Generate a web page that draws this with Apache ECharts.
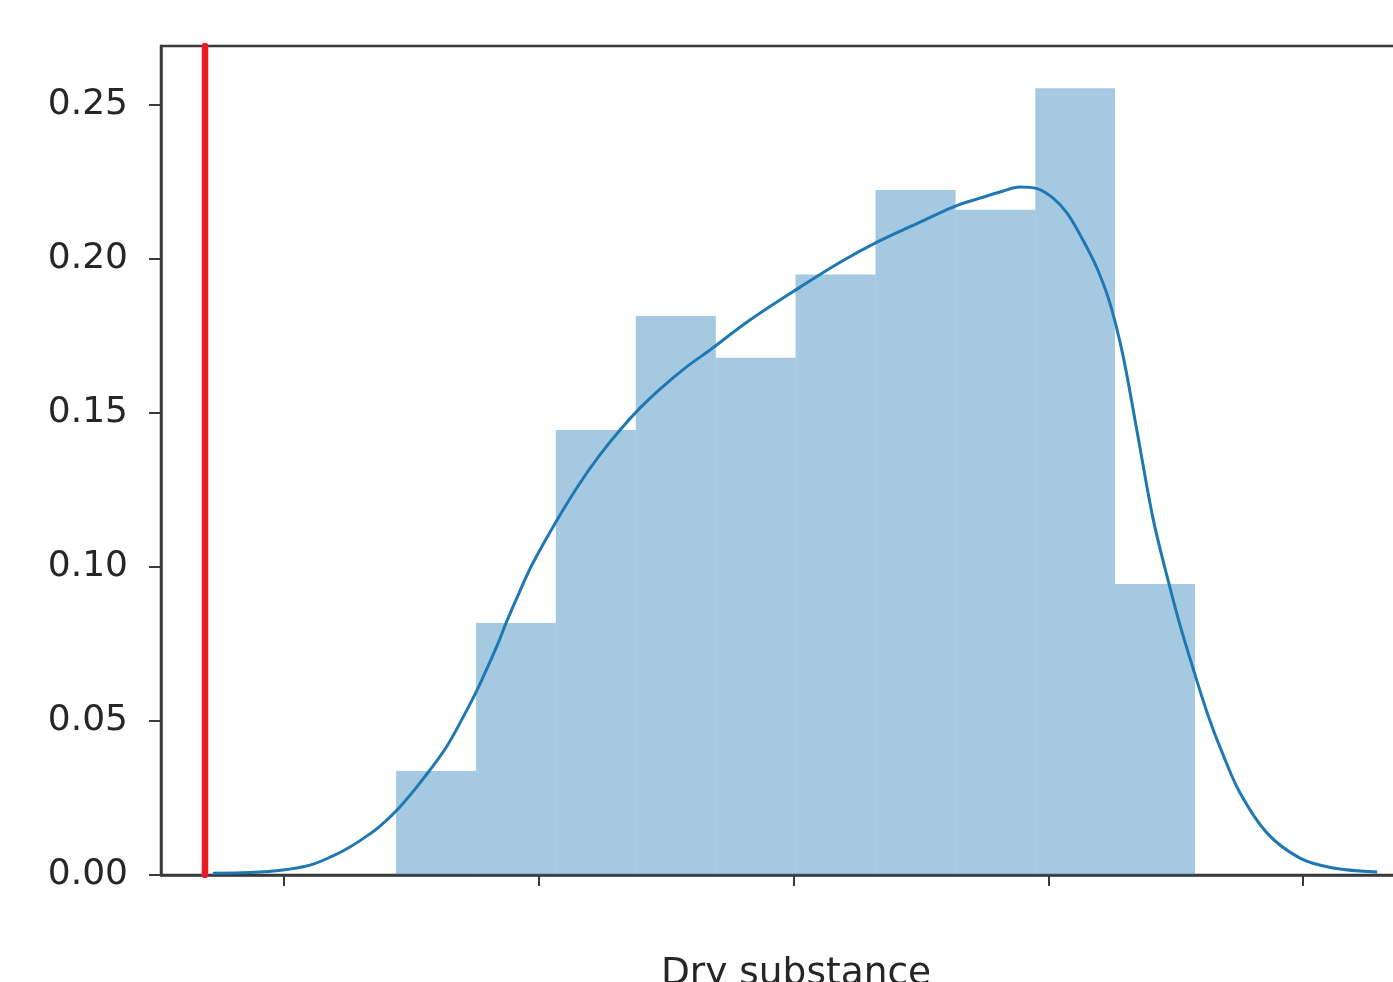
<!DOCTYPE html>
<html>
<head>
<meta charset="utf-8">
<script src="https://cdn.jsdelivr.net/npm/echarts@6/dist/echarts.min.js"></script>
<style>
html,body{margin:0;padding:0;background:#fff;}
#chart{width:1393px;height:982px;}
</style>
</head>
<body>
<div id="chart"></div>
<script>
// Histogram bin edges (x units: tick spacing = 1, first tick = 0)
const binEdges = [0.440, 0.754, 1.067, 1.381, 1.695, 2.008, 2.322, 2.636, 2.949, 3.262, 3.576];
const binHeights = [0.0338, 0.0818, 0.1445, 0.1815, 0.168, 0.195, 0.2224, 0.216, 0.2555, 0.0945];

// KDE curve
const kdeX = [-0.279, -0.133, -0.004, 0.102, 0.192, 0.259, 0.326, 0.377, 0.455, 0.546, 0.640, 0.730, 0.769, 0.836, 0.875, 0.926, 0.977, 1.072, 1.162, 1.240, 1.319, 1.397, 1.476, 1.574, 1.672, 1.829, 2.026, 2.183, 2.328, 2.497, 2.626, 2.732, 2.811, 2.889, 2.956, 3.019, 3.074, 3.136, 3.191, 3.242, 3.293, 3.352, 3.411, 3.470, 3.517, 3.568, 3.627, 3.682, 3.753, 3.859, 3.988, 4.118, 4.291];
const kdeY = [0.0006, 0.0008, 0.0016, 0.0032, 0.0062, 0.0091, 0.0127, 0.0159, 0.0221, 0.0312, 0.0419, 0.0555, 0.0620, 0.0744, 0.0825, 0.0922, 0.1013, 0.1153, 0.1273, 0.1364, 0.1445, 0.1516, 0.1578, 0.1646, 0.1705, 0.1802, 0.1909, 0.1990, 0.2055, 0.2120, 0.2169, 0.2198, 0.2218, 0.2234, 0.2229, 0.2198, 0.2149, 0.2062, 0.1971, 0.1857, 0.1688, 0.1425, 0.1159, 0.0958, 0.0812, 0.0672, 0.0519, 0.0399, 0.0266, 0.0136, 0.0055, 0.0023, 0.0010];

// Vertical red reference line
const redLineX = -0.310;

// Axes
const xTickValues = [0, 1, 2, 3, 4];
const yTickValues = [0, 0.05, 0.10, 0.15, 0.20, 0.25];
const xMin = -0.4828, xMax = 4.5024;
const yMin = 0, yMax = 0.2692;
const xAxisTitle = 'Dry substance';

const histData = binHeights.map((h, i) => [binEdges[i], binEdges[i + 1], h]);
const kdeData = kdeX.map((x, i) => [x, kdeY[i]]);

const axisColor = '#3a3a3a';
const textColor = '#262626';
const font = 'DejaVu Sans';

const chart = echarts.init(document.getElementById('chart'), null, {renderer: 'canvas'});
chart.setOption({
  animation: false,
  backgroundColor: '#ffffff',
  grid: {
    left: 161, top: 46, width: 1270, height: 829,
    outerBoundsMode: 'none', containLabel: false,
    show: true, borderColor: axisColor, borderWidth: 2.5, backgroundColor: 'transparent'
  },
  xAxis: {
    type: 'value', min: xMin, max: xMax,
    name: xAxisTitle, nameLocation: 'middle', nameGap: 80,
    nameTextStyle: {fontFamily: font, fontSize: 37.5, color: textColor},
    axisLine: {show: true, onZero: false, lineStyle: {color: axisColor, width: 2.5}},
    axisTick: {show: true, customValues: xTickValues, length: 11, lineStyle: {color: axisColor, width: 2}},
    axisLabel: {show: false},
    splitLine: {show: false}
  },
  yAxis: {
    type: 'value', min: yMin, max: yMax,
    axisLine: {show: true, onZero: false, lineStyle: {color: axisColor, width: 2.5}},
    axisTick: {show: true, customValues: yTickValues, length: 12, lineStyle: {color: axisColor, width: 2}},
    axisLabel: {
      show: true, customValues: yTickValues, margin: 33,
      fontFamily: font, fontSize: 36, color: textColor,
      formatter: v => Number(v).toFixed(2)
    },
    splitLine: {show: false}
  },
  series: [
    {
      type: 'custom',
      data: histData,
      encode: {x: [0, 1], y: 2},
      z: 1,
      renderItem: function (params, api) {
        const tl = api.coord([api.value(0), api.value(2)]);
        const br = api.coord([api.value(1), 0]);
        return {
          type: 'rect',
          shape: {x: tl[0], y: tl[1], width: br[0] - tl[0], height: br[1] - tl[1]},
          style: {fill: 'rgba(31,119,180,0.4)'}
        };
      }
    },
    {
      type: 'line',
      data: kdeData,
      symbol: 'none',
      smooth: 0.35,
      z: 3,
      lineStyle: {color: '#1f77b4', width: 3}
    },
    {
      type: 'line',
      data: [[redLineX, yMin], [redLineX, yMax]],
      symbol: 'none',
      z: 4,
      lineStyle: {color: '#ed1c24', width: 6.5, cap: 'round'}
    }
  ]
});
</script>
</body>
</html>
